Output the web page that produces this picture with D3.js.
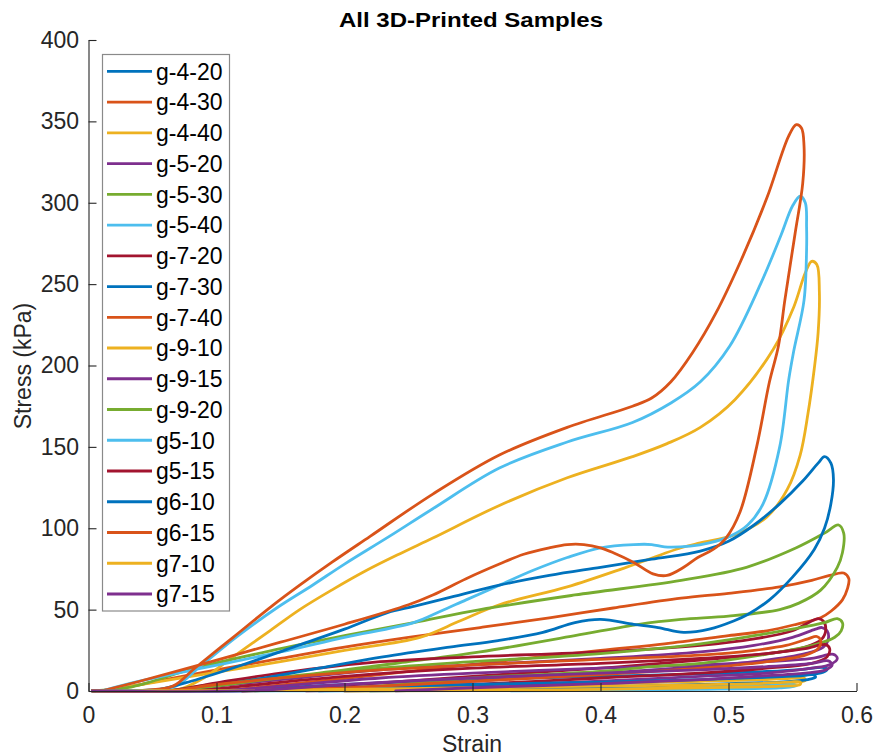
<!DOCTYPE html>
<html>
<head>
<meta charset="utf-8">
<script src="https://cdn.jsdelivr.net/npm/d3@7"></script>
<style>
  html, body { margin: 0; padding: 0; background: #fff; }
  svg { display: block; font-family: "Liberation Sans", Arial, Helvetica, sans-serif; }
</style>
</head>
<body>
<svg id="chart" width="876" height="756"></svg>
<script>
// ---------------- DATA (strain, stress kPa) ----------------
const seriesNames = ["g-4-20","g-4-30","g-4-40","g-5-20","g-5-30","g-5-40","g-7-20","g-7-30","g-7-40",
                     "g-9-10","g-9-15","g-9-20","g5-10","g5-15","g6-10","g6-15","g7-10","g7-15"];
const seriesColors = ["#0072BD","#D95319","#EDB120","#7E2F8E","#77AC30","#4DBEEE","#A2142F","#0072BD","#D95319",
                      "#EDB120","#7E2F8E","#77AC30","#4DBEEE","#A2142F","#0072BD","#D95319","#EDB120","#7E2F8E"];
const xTicks = [0,0.1,0.2,0.3,0.4,0.5,0.6];
const xTickLabels = ["0","0.1","0.2","0.3","0.4","0.5","0.6"];
const yTicks = [0,50,100,150,200,250,300,350,400];
const yTickLabels = ["0","50","100","150","200","250","300","350","400"];

const g_4_20 = [[0.003,0],[0.06,0],[0.1,0.3],[0.15,2],[0.228,5],[0.3,7],[0.4,9],[0.478,10.5],[0.53,12],[0.56,13.5],[0.573,14.5],[0.577,13.5],[0.574,11.5],[0.555,9.5],[0.5,7],[0.4,4.5],[0.3,2.2],[0.22,0.6],[0.18,0]];
const g_4_30 = [[0.003,0],[0.02,1],[0.06,7],[0.1,13],[0.15,20],[0.2,27],[0.25,33],[0.306,39],[0.36,45],[0.41,51],[0.463,57],[0.5,60],[0.54,64],[0.565,68],[0.579,71],[0.59,72.5],[0.594,69],[0.593,63],[0.589,56],[0.58,49],[0.572,45],[0.553,41],[0.53,37],[0.5,34],[0.45,29],[0.4,25],[0.33,19],[0.25,12],[0.18,6],[0.13,2],[0.1,0]];
const g_4_40 = [[0.003,0],[0.05,0],[0.069,0.5],[0.09,8],[0.113,21],[0.14,36],[0.165,50],[0.19,62],[0.217,74],[0.245,85],[0.269,94],[0.321,114],[0.374,131],[0.425,144],[0.452,152],[0.478,162],[0.505,179],[0.535,210],[0.551,236],[0.56,257],[0.565,264],[0.569,262],[0.571,245],[0.57,220],[0.567,198],[0.562,170],[0.556,145],[0.546,124],[0.53,107],[0.505,96],[0.478,91],[0.463,88],[0.42,76],[0.374,64],[0.321,53],[0.29,43],[0.259,33],[0.2,25],[0.15,18],[0.08,9],[0.01,0]];
const g_5_20 = [[0.003,0],[0.07,0],[0.1,3],[0.15,7],[0.228,13],[0.3,16],[0.4,20],[0.478,24],[0.52,28],[0.55,33],[0.568,38],[0.573,39],[0.577,37],[0.578,32],[0.574,27],[0.56,23],[0.52,18],[0.478,15],[0.4,11],[0.3,6],[0.228,3],[0.15,0.5],[0.12,0]];
const g_5_30 = [[0.003,0],[0.03,2],[0.05,6],[0.083,14],[0.15,26],[0.2,34],[0.254,42],[0.306,50],[0.38,59],[0.463,68],[0.514,76],[0.553,88],[0.575,97],[0.586,102],[0.59,97],[0.589,85],[0.585,76],[0.572,62],[0.555,54],[0.54,50],[0.5,46],[0.463,44],[0.43,41],[0.38,34],[0.306,24],[0.25,18],[0.18,11],[0.103,5],[0.07,1],[0.05,0]];
const g_5_40 = [[0.003,0],[0.03,0],[0.045,0.5],[0.068,3],[0.087,15],[0.117,34],[0.147,51],[0.175,65],[0.2,78],[0.235,95],[0.269,112],[0.321,137],[0.374,153],[0.425,165],[0.455,177],[0.478,190],[0.501,212],[0.525,250],[0.541,280],[0.55,298],[0.556,304],[0.56,300],[0.561,285],[0.561,271],[0.559,240],[0.551,209],[0.547,191],[0.54,150],[0.527,115],[0.515,102],[0.501,95],[0.485,91],[0.47,89],[0.45,88.5],[0.44,90],[0.426,90],[0.4,88],[0.374,82],[0.347,74],[0.321,65],[0.295,56],[0.275,49],[0.254,42],[0.2,33],[0.15,24],[0.082,13],[0.04,6],[0.01,0]];
const g_7_20 = [[0.003,0],[0.06,0],[0.1,5],[0.15,11],[0.228,18],[0.3,21],[0.4,24],[0.478,28],[0.52,32],[0.55,37],[0.565,43],[0.57,44.5],[0.574,43],[0.576,38],[0.573,32],[0.56,27],[0.52,22],[0.478,19],[0.4,14],[0.3,9],[0.228,5],[0.15,1],[0.12,0]];
const g_7_30 = [[0.003,0],[0.04,0],[0.053,0.5],[0.08,6],[0.12,16],[0.16,27],[0.2,38],[0.233,48],[0.254,52],[0.28,57],[0.321,65],[0.36,71],[0.4,76],[0.44,81],[0.478,86],[0.5,92],[0.52,102],[0.54,115],[0.558,129],[0.57,140],[0.575,144],[0.58,140],[0.582,130],[0.58,115],[0.575,100],[0.567,87],[0.55,70],[0.532,56],[0.515,47],[0.504,43],[0.485,38],[0.465,36],[0.445,39],[0.426,41],[0.4,44],[0.38,42],[0.355,36],[0.32,31],[0.282,27],[0.23,21],[0.18,14],[0.13,7],[0.1,3],[0.08,0]];
const g_7_40 = [[0.003,0],[0.03,0],[0.045,0.5],[0.066,3],[0.083,14],[0.113,33],[0.143,52],[0.165,65],[0.19,79],[0.22,95],[0.269,121],[0.321,145],[0.374,162],[0.425,175],[0.44,180],[0.455,190],[0.472,208],[0.49,232],[0.51,265],[0.53,303],[0.547,341],[0.553,348],[0.557,346],[0.559,335],[0.558,312],[0.552,281],[0.544,240],[0.539,212],[0.532,190],[0.522,150],[0.509,110],[0.498,94],[0.488,87],[0.476,82],[0.465,76],[0.452,71],[0.441,72],[0.426,79],[0.41,85],[0.4,88],[0.387,90],[0.374,90],[0.36,88],[0.34,84],[0.321,78],[0.295,69],[0.269,59],[0.25,53],[0.2,41],[0.15,30],[0.082,15],[0.04,6],[0.01,0]];
const g_9_10 = [[0.003,0],[0.1,0],[0.2,1.5],[0.3,3],[0.4,4.5],[0.478,6],[0.53,7],[0.552,8],[0.559,8],[0.56,6.5],[0.555,5.5],[0.53,4.5],[0.478,3.5],[0.4,2.5],[0.3,1],[0.2,0]];
const g_9_15 = [[0.003,0],[0.1,0],[0.15,3],[0.228,8],[0.3,11],[0.4,14],[0.478,16],[0.53,18],[0.565,20],[0.582,22.5],[0.585,20],[0.58,16.5],[0.565,14],[0.53,11],[0.478,9],[0.4,6],[0.3,3],[0.23,0.5],[0.2,0]];
const g_9_20 = [[0.003,0],[0.07,0],[0.1,3],[0.15,8],[0.228,14],[0.3,18],[0.4,23],[0.478,29],[0.52,34],[0.55,38],[0.575,42],[0.585,44.5],[0.589,42],[0.588,37],[0.583,33],[0.57,29],[0.54,24],[0.478,17],[0.44,15],[0.4,12],[0.3,8],[0.228,3],[0.16,0.5],[0.13,0]];
const g5_10 = [[0.003,0],[0.2,0],[0.3,0.5],[0.4,1.5],[0.478,2.5],[0.53,3.5],[0.55,4],[0.553,3],[0.54,2],[0.478,1],[0.4,0.5],[0.33,0]];
const g5_15 = [[0.003,0],[0.08,0],[0.12,3],[0.2,9],[0.3,14],[0.4,17],[0.478,20],[0.53,23],[0.56,26],[0.576,28.5],[0.579,26],[0.577,21],[0.565,17],[0.53,14],[0.478,11],[0.4,8],[0.3,4],[0.22,1],[0.17,0]];
const g6_10 = [[0.003,0],[0.12,0],[0.2,2],[0.3,4],[0.4,5.5],[0.478,7],[0.53,8.5],[0.558,9.5],[0.566,10],[0.568,8.5],[0.562,7],[0.54,5.5],[0.478,4],[0.4,2.5],[0.3,1],[0.22,0]];
const g6_15 = [[0.003,0],[0.06,0],[0.1,4],[0.15,8],[0.228,13],[0.3,16],[0.387,19],[0.478,22],[0.52,25],[0.545,28],[0.562,32],[0.569,33.5],[0.572,31],[0.57,26],[0.56,22],[0.53,18],[0.478,14],[0.4,10],[0.3,6],[0.228,3],[0.15,0.5],[0.12,0]];
const g7_10 = [[0.003,0],[0.05,0],[0.15,0.5],[0.25,1.5],[0.35,2.5],[0.45,3.5],[0.52,4.5],[0.548,5.5],[0.556,5.5],[0.556,4],[0.54,3],[0.478,2],[0.4,1],[0.3,0.3],[0.2,0]];
const g7_15 = [[0.003,0],[0.12,0],[0.2,4],[0.3,8],[0.4,11],[0.478,13],[0.53,15],[0.565,17],[0.578,18.5],[0.581,16],[0.576,13],[0.56,11],[0.52,9],[0.478,7],[0.4,4.5],[0.3,2],[0.24,0]];

const seriesData = [g_4_20,g_4_30,g_4_40,g_5_20,g_5_30,g_5_40,g_7_20,g_7_30,g_7_40,
                    g_9_10,g_9_15,g_9_20,g5_10,g5_15,g6_10,g6_15,g7_10,g7_15];

// ---------------- LAYOUT ----------------
const svg = d3.select("#chart");
const axisColor = "#262626";
const x = d3.scaleLinear().domain([0, 0.6]).range([88.5, 856.5]);
const y = d3.scaleLinear().domain([0, 400]).range([691, 40]);

svg.append("defs").append("clipPath").attr("id","plotclip")
  .append("rect").attr("x", x(0) - 2).attr("y", y(400) - 2)
  .attr("width", x(0.6) - x(0) + 4).attr("height", y(0) - y(400) + 3.5);

const line = d3.line()
  .x(d => x(d[0])).y(d => y(d[1]))
  .curve(d3.curveCatmullRom.alpha(0.5));

const gLines = svg.append("g").attr("clip-path","url(#plotclip)");
seriesData.forEach((pts, i) => {
  gLines.append("path")
    .attr("d", line(pts))
    .attr("fill","none")
    .attr("stroke", seriesColors[i])
    .attr("stroke-width", 2.8)
    .attr("stroke-linejoin","round")
    .attr("stroke-linecap","round");
});

const xAxis = d3.axisBottom(x).tickValues(xTicks)
  .tickFormat((d,i) => xTickLabels[i]).tickSizeInner(-8).tickSizeOuter(0).tickPadding(16);
const yAxis = d3.axisLeft(y).tickValues(yTicks)
  .tickFormat((d,i) => yTickLabels[i]).tickSizeInner(-8).tickSizeOuter(0).tickPadding(9.5);

const gx = svg.append("g").attr("transform", `translate(0,${y(0)})`).call(xAxis);
const gy = svg.append("g").attr("transform", `translate(${x(0)},0)`).call(yAxis);
[gx, gy].forEach(g => {
  g.select(".domain").attr("stroke", axisColor).attr("stroke-width", 1.1);
  g.selectAll(".tick line").attr("stroke", axisColor).attr("stroke-width", 1.1);
  g.selectAll(".tick text").attr("fill", axisColor)
    .style("font-size","23px").style("font-family",'"Liberation Sans", Arial, sans-serif');
});

svg.append("text").attr("x", 472).attr("y", 752).attr("text-anchor","middle")
  .attr("fill", axisColor).style("font-size","23px").text("Strain");
svg.append("text").attr("transform", "translate(31,366) rotate(-90)").attr("text-anchor","middle")
  .attr("fill", axisColor).style("font-size","23px").text("Stress (kPa)");
svg.append("text").attr("x", 471).attr("y", 27).attr("text-anchor","middle")
  .attr("fill", "#000").style("font-size","20px").style("font-weight","bold")
  .attr("textLength", 264).attr("lengthAdjust","spacingAndGlyphs")
  .text("All 3D-Printed Samples");

const leg = svg.append("g");
leg.append("rect").attr("x", 102.5).attr("y", 54.5).attr("width", 127).attr("height", 556.5)
  .attr("fill","#fff").attr("stroke","#8a8a8a").attr("stroke-width", 1.2);
const rowY = d3.scaleLinear().domain([0, 17]).range([71.3, 594]);
seriesNames.forEach((name, i) => {
  const cy = rowY(i);
  leg.append("line").attr("x1", 107).attr("x2", 152).attr("y1", cy).attr("y2", cy)
    .attr("stroke", seriesColors[i]).attr("stroke-width", 2.8);
  leg.append("text").attr("x", 156).attr("y", cy + 8.3)
    .attr("fill","#000").style("font-size","23px").text(name);
});
</script>
</body>
</html>
